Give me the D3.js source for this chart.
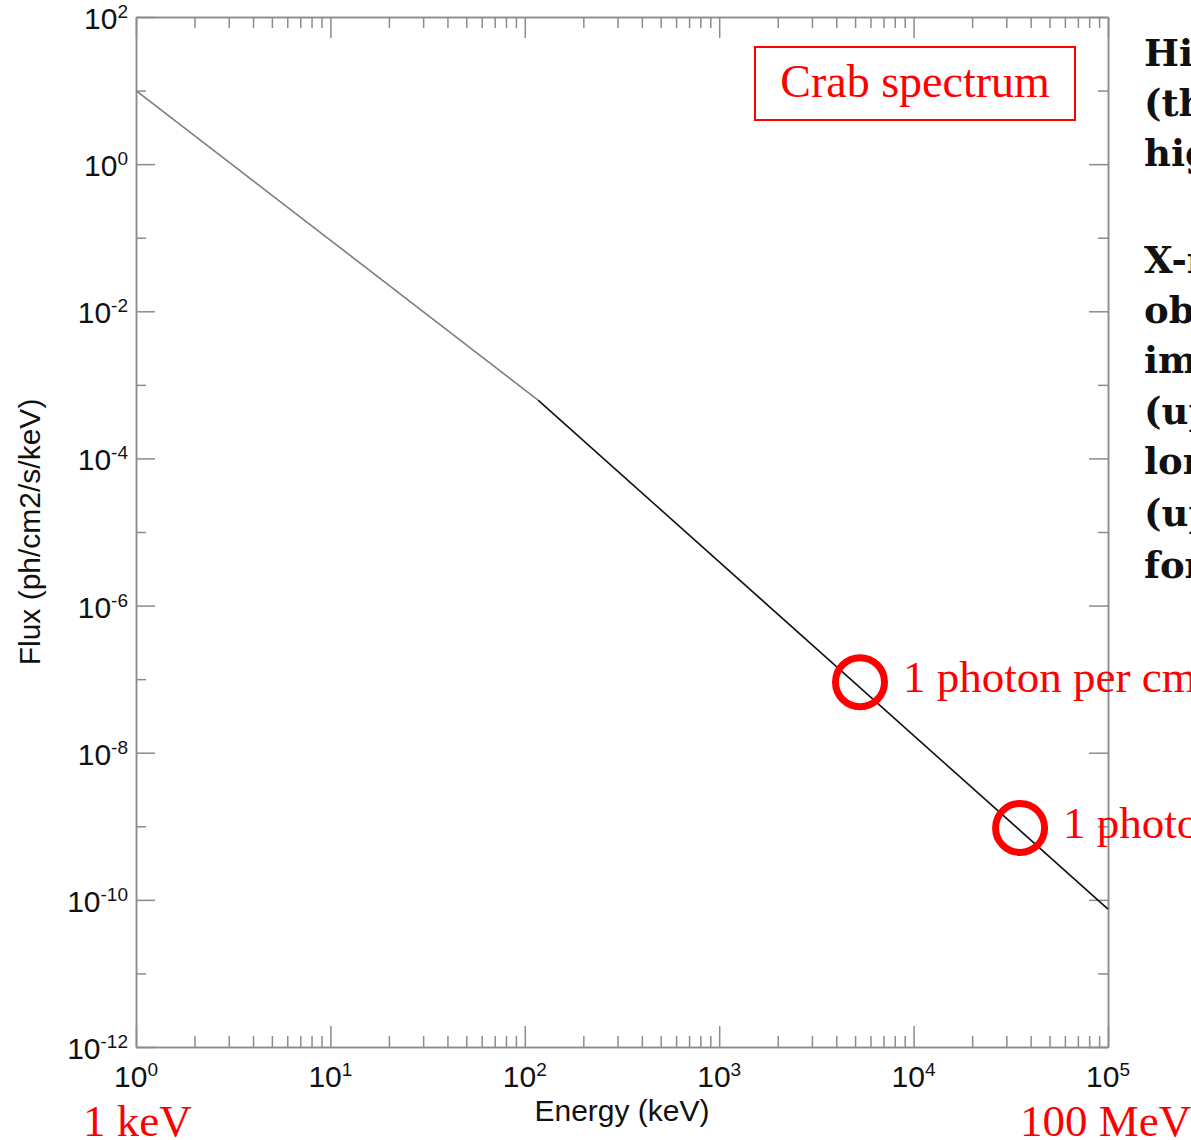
<!DOCTYPE html>
<html>
<head>
<meta charset="utf-8">
<script src="https://cdn.jsdelivr.net/npm/d3@7"></script>
<style>
  html, body { margin: 0; padding: 0; background: #fff; overflow: hidden; }
  svg { display: block; }
</style>
</head>
<body>
<div id="chart"></div>
<script>
/* global d3 */

// spectrum (energy in keV, flux in ph/cm2/s/keV)
var lowEnergy = [1, 117];
var lowFlux = [10, 6.2e-4];
var highEnergy = [117, 1e5];
var highFlux = [6.2e-4, 7.5e-11];

// circled points and their notes
var markerEnergy = [5300, 35300];
var markerFlux = [9.1e-8, 9.5e-10];
var markerText = ["1 photon per cm\u00b2 per hour", "1 photon per cm\u00b2 per day"];

// tick labels
var xMajor = [1, 10, 100, 1000, 10000, 100000];
var xExp = ["0", "1", "2", "3", "4", "5"];
var yMajor = [1e2, 1e0, 1e-2, 1e-4, 1e-6, 1e-8, 1e-10, 1e-12];
var yExp = ["2", "0", "-2", "-4", "-6", "-8", "-10", "-12"];
var yMinor = [1e1, 1e-1, 1e-3, 1e-5, 1e-7, 1e-9, 1e-11];

var sideText = [
  "High energy photons are rare",
  "(the flux drops steeply toward",
  "higher energies)",
  "",
  "X-ray / gamma-ray telescopes:",
  "observing at high energies",
  "implies large detectors",
  "(up to m\u00b2 collecting areas)",
  "long exposure times",
  "(up to months or years)",
  "for only a few photons"
];

var width = 1191,
  height = 1140,
  margin = {top: 17, right: 83, bottom: 93, left: 136},
  axisColor = "#8c8c8c";

var svg = d3.select("#chart").append("svg")
  .attr("width", width)
  .attr("height", height);

var x = d3.scaleLog()
  .domain([1, 1e5])
  .range([margin.left, width - margin.right]);

var y = d3.scaleLog()
  .domain([1e-12, 1e2])
  .range([height - margin.bottom, margin.top]);

var xMinor = x.ticks().filter(function (d) { return xMajor.indexOf(d) < 0; });

function drawAxis(axis, tx, ty) {
  var g = svg.append("g")
    .attr("transform", "translate(" + tx + "," + ty + ")")
    .call(axis);
  g.selectAll("path, line")
    .attr("stroke", axisColor)
    .attr("stroke-width", 1.5);
  g.selectAll("text").remove();
  return g;
}

var x0 = x.range()[0], x1 = x.range()[1];
var y0 = y.range()[0], y1 = y.range()[1];

// bottom / top
drawAxis(d3.axisBottom(x).tickValues(xMajor).tickSize(-21).tickSizeOuter(0).tickFormat(""), 0, y0);
drawAxis(d3.axisBottom(x).tickValues(xMinor).tickSize(-11).tickSizeOuter(0).tickFormat(""), 0, y0);
drawAxis(d3.axisTop(x).tickValues(xMajor).tickSize(-21).tickSizeOuter(0).tickFormat(""), 0, y1);
drawAxis(d3.axisTop(x).tickValues(xMinor).tickSize(-11).tickSizeOuter(0).tickFormat(""), 0, y1);
// left / right
drawAxis(d3.axisLeft(y).tickValues(yMajor).tickSize(-19).tickSizeOuter(0).tickFormat(""), x0, 0);
drawAxis(d3.axisLeft(y).tickValues(yMinor).tickSize(-10).tickSizeOuter(0).tickFormat(""), x0, 0);
drawAxis(d3.axisRight(y).tickValues(yMajor).tickSize(-19).tickSizeOuter(0).tickFormat(""), x1, 0);
drawAxis(d3.axisRight(y).tickValues(yMinor).tickSize(-10).tickSizeOuter(0).tickFormat(""), x1, 0);

// tick labels with superscript exponents
var labelFont = "'Liberation Sans', Arial, Helvetica, sans-serif";

var xl = svg.append("g").selectAll("text")
  .data(xMajor)
  .enter().append("text")
    .attr("x", function (d) { return x(d); })
    .attr("y", y0 + 40)
    .attr("text-anchor", "middle")
    .attr("font-family", labelFont)
    .attr("fill", "#111");
xl.append("tspan").attr("font-size", 30).text("10");
xl.append("tspan").attr("font-size", 19).attr("dy", -11)
  .text(function (d, i) { return xExp[i]; });

var yl = svg.append("g").selectAll("text")
  .data(yMajor)
  .enter().append("text")
    .attr("x", x0 - 8)
    .attr("y", function (d) { return y(d) + 12; })
    .attr("text-anchor", "end")
    .attr("font-family", labelFont)
    .attr("fill", "#111");
yl.append("tspan").attr("font-size", 30).text("10");
yl.append("tspan").attr("font-size", 19).attr("dy", -11)
  .text(function (d, i) { return yExp[i]; });

// axis titles
svg.append("text")
  .attr("x", (x0 + x1) / 2)
  .attr("y", y0 + 74)
  .attr("text-anchor", "middle")
  .attr("font-family", labelFont)
  .attr("font-size", 30)
  .attr("fill", "#111")
  .text("Energy (keV)");

svg.append("text")
  .attr("transform", "translate(40," + ((y0 + y1) / 2) + ") rotate(-90)")
  .attr("text-anchor", "middle")
  .attr("font-family", labelFont)
  .attr("font-size", 30)
  .attr("fill", "#111")
  .text("Flux (ph/cm2/s/keV)");

// spectrum
var line = d3.line()
  .x(function (d) { return x(d[0]); })
  .y(function (d) { return y(d[1]); });

svg.append("path")
  .datum(d3.zip(lowEnergy, lowFlux))
  .attr("d", line)
  .attr("fill", "none")
  .attr("stroke", "#7d7d7d")
  .attr("stroke-width", 1.6);

svg.append("path")
  .datum(d3.zip(highEnergy, highFlux))
  .attr("d", line)
  .attr("fill", "none")
  .attr("stroke", "#111")
  .attr("stroke-width", 1.6);

// red annotations
var red = "#ff0000";
var serif = "'Liberation Serif', 'Times New Roman', serif";

svg.selectAll("circle.mark")
  .data(d3.zip(markerEnergy, markerFlux))
  .enter().append("circle")
    .attr("class", "mark")
    .attr("cx", function (d) { return x(d[0]); })
    .attr("cy", function (d) { return y(d[1]); })
    .attr("r", 24.5)
    .attr("fill", "none")
    .attr("stroke", red)
    .attr("stroke-width", 7);

svg.selectAll("text.mark")
  .data(d3.zip(markerEnergy, markerFlux, markerText))
  .enter().append("text")
    .attr("class", "mark")
    .attr("x", function (d) { return x(d[0]) + 43; })
    .attr("y", function (d) { return y(d[1]) + 10; })
    .attr("font-family", serif)
    .attr("font-size", 45)
    .attr("fill", red)
    .text(function (d) { return d[2]; });

svg.append("rect")
  .attr("x", 755)
  .attr("y", 47)
  .attr("width", 320)
  .attr("height", 73)
  .attr("fill", "none")
  .attr("stroke", red)
  .attr("stroke-width", 2);

svg.append("text")
  .attr("x", 915)
  .attr("y", 97)
  .attr("text-anchor", "middle")
  .attr("font-family", serif)
  .attr("font-size", 46)
  .attr("fill", red)
  .text("Crab spectrum");

svg.append("text")
  .attr("x", 83)
  .attr("y", 1136)
  .attr("font-family", serif)
  .attr("font-size", 45)
  .attr("fill", red)
  .text("1 keV");

svg.append("text")
  .attr("x", 1020)
  .attr("y", 1136)
  .attr("font-family", serif)
  .attr("font-size", 45)
  .attr("fill", red)
  .text("100 MeV");

// slide text on the right, cut by the window edge
var sideY = [66, 116, 166, 220, 273, 323, 373, 424, 474, 526, 578];
svg.append("g").selectAll("text")
  .data(sideText)
  .enter().append("text")
    .attr("x", 1144)
    .attr("y", function (d, i) { return sideY[i]; })
    .attr("font-family", "'DejaVu Serif', serif")
    .attr("font-weight", "bold")
    .attr("font-size", 37)
    .attr("fill", "#111")
    .text(function (d) { return d; });
</script>
</body>
</html>
